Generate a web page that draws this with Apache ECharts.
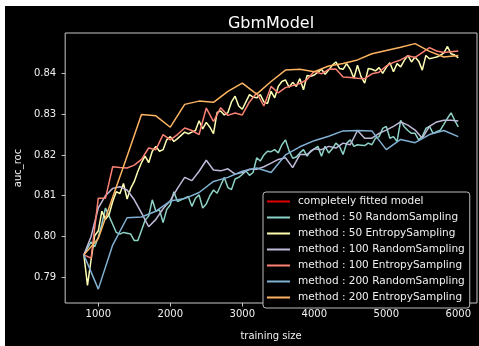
<!DOCTYPE html>
<html>
<head>
<meta charset="utf-8">
<script src="https://cdn.jsdelivr.net/npm/echarts@6/dist/echarts.min.js"></script>
<style>
  html, body { margin: 0; padding: 0; background: #fff; }
  #main { position: absolute; left: 5px; top: 6px; width: 474px; height: 340px; }
</style>
</head>
<body>
<div id="main"></div>
<script>
// auc_roc, one value per training size
var fittedAuc = 0.8461;

var random50 = [
  0.7955, 0.7971, 0.7987, 0.7975, 0.7999, 0.8030, 0.8070, 0.8050, 0.8030, 0.8010,
  0.8006, 0.8010, 0.8008, 0.8006, 0.7990, 0.7990, 0.8015, 0.8040, 0.8050, 0.8090,
  0.8062, 0.8066, 0.8034, 0.8066, 0.8078, 0.8110, 0.8086, 0.8090, 0.8094, 0.8098,
  0.8074, 0.8094, 0.8102, 0.8070, 0.8080, 0.8100, 0.8114, 0.8106, 0.8125, 0.8145,
  0.8120, 0.8115, 0.8141, 0.8145, 0.8152, 0.8161, 0.8150, 0.8157, 0.8193, 0.8185,
  0.8200, 0.8209, 0.8208, 0.8213, 0.8205, 0.8225, 0.8237, 0.8210, 0.8192, 0.8195,
  0.8205, 0.8213, 0.8197, 0.8210, 0.8215, 0.8221, 0.8197, 0.8221, 0.8205, 0.8215,
  0.8229, 0.8221, 0.8201, 0.8229, 0.8237, 0.8221, 0.8225, 0.8224, 0.8223, 0.8229,
  0.8225, 0.8241, 0.8245, 0.8265, 0.8270, 0.8241, 0.8245, 0.8233, 0.8285, 0.8269,
  0.8260, 0.8253, 0.8253, 0.8237, 0.8245, 0.8265, 0.8270, 0.8253, 0.8257, 0.8261,
  0.8275, 0.8290, 0.8303, 0.8285, 0.8269
];

var entropy50 = [
  0.7955, 0.7880, 0.7943, 0.8002, 0.8014, 0.8062, 0.8042, 0.8054, 0.8086, 0.8110,
  0.8105, 0.8130, 0.8092, 0.8118, 0.8135, 0.8160, 0.8181, 0.8197, 0.8181, 0.8209,
  0.8221, 0.8209, 0.8213, 0.8237, 0.8245, 0.8233, 0.8240, 0.8248, 0.8256, 0.8252,
  0.8256, 0.8260, 0.8284, 0.8264, 0.8280, 0.8268, 0.8252, 0.8304, 0.8308, 0.8298,
  0.8304, 0.8330, 0.8344, 0.8320, 0.8312, 0.8330, 0.8348, 0.8342, 0.8340, 0.8348,
  0.8330, 0.8326, 0.8356, 0.8340, 0.8368, 0.8380, 0.8384, 0.8366, 0.8378, 0.8368,
  0.8387, 0.8360, 0.8395, 0.8393, 0.8396, 0.8403, 0.8410, 0.8398, 0.8408, 0.8420,
  0.8428, 0.8412, 0.8410, 0.8424, 0.8410, 0.8388, 0.8420, 0.8392, 0.8376, 0.8412,
  0.8410, 0.8406, 0.8414, 0.8400, 0.8415, 0.8426, 0.8404, 0.8424, 0.8416, 0.8432,
  0.8444, 0.8428, 0.8440, 0.8430, 0.8408, 0.8444, 0.8436, 0.8438, 0.8440, 0.8444,
  0.8450, 0.8466, 0.8448, 0.8445, 0.8438
];

var random100 = [
  0.7955, 0.8000, 0.8070, 0.8100, 0.8118, 0.8122, 0.8114, 0.8090, 0.8058, 0.8024,
  0.8042, 0.8068, 0.8088, 0.8118, 0.8145, 0.8137, 0.8160, 0.8187, 0.8163, 0.8161,
  0.8166, 0.8153, 0.8157, 0.8165, 0.8165, 0.8171, 0.8180, 0.8189, 0.8193, 0.8169,
  0.8201, 0.8201, 0.8215, 0.8213, 0.8221, 0.8217, 0.8229, 0.8225, 0.8260, 0.8241,
  0.8241, 0.8253, 0.8261, 0.8270, 0.8281, 0.8273, 0.8261, 0.8241, 0.8270, 0.8281,
  0.8285, 0.8285, 0.8283
];

var entropy100 = [
  0.7955, 0.7947, 0.8094, 0.8094, 0.8171, 0.8169, 0.8168, 0.8175, 0.8189, 0.8217,
  0.8213, 0.8250, 0.8237, 0.8250, 0.8266, 0.8260, 0.8250, 0.8315, 0.8282, 0.8316,
  0.8297, 0.8303, 0.8298, 0.8330, 0.8352, 0.8320, 0.8368, 0.8352, 0.8365, 0.8370,
  0.8375, 0.8385, 0.8405, 0.8399, 0.8410, 0.8411, 0.8391, 0.8390, 0.8388, 0.8387,
  0.8399, 0.8403, 0.8418, 0.8427, 0.8433, 0.8443, 0.8439, 0.8451, 0.8463, 0.8455,
  0.8451, 0.8453, 0.8455
];

var random200 = [
  0.7955, 0.7871, 0.7979, 0.8046, 0.8048, 0.8062, 0.8087, 0.8093, 0.8108, 0.8135,
  0.8145, 0.8160, 0.8168, 0.8157, 0.8200, 0.8220, 0.8235, 0.8246, 0.8259, 0.8260,
  0.8259, 0.8213, 0.8238, 0.8230, 0.8250, 0.8260, 0.8245
];

var entropy200 = [
  0.7955, 0.7995, 0.8096, 0.8197, 0.8299, 0.8296, 0.8268, 0.8324, 0.8332, 0.8329,
  0.8356, 0.8376, 0.8349, 0.8380, 0.8408, 0.8410, 0.8404, 0.8418, 0.8424, 0.8433,
  0.8448, 0.8456, 0.8464, 0.8473, 0.8454, 0.8440, 0.8444
];

var xTicks = [1000, 2000, 3000, 4000, 5000, 6000];
var yTicks = [0.79, 0.80, 0.81, 0.82, 0.83, 0.84];

// training sizes start at 800 and grow by the query batch size
function withSizes(step, values) {
  return values.map(function (v, i) { return [800 + i * step, v]; });
}

var font = 'DejaVu Sans';
var myChart = echarts.init(document.getElementById('main'));

function curve(name, color, step, values) {
  return {
    name: name,
    type: 'line',
    data: withSizes(step, values),
    showSymbol: false,
    symbol: 'none',
    color: color,
    lineStyle: { color: color, width: 1.5 },
    animation: false
  };
}

option = {
  backgroundColor: '#000',
  animation: false,
  title: {
    text: 'GbmModel',
    left: 261,
    top: 5,
    textAlign: 'center',
    textStyle: { color: '#fff', fontFamily: font, fontSize: 16, fontWeight: 'normal' }
  },
  grid: {
    left: 55, top: 27, width: 417, height: 279,
    show: true, borderColor: '#c8c8c8', borderWidth: 1, backgroundColor: '#000'
  },
  legend: {
    orient: 'vertical',
    left: 258,
    top: 186,
    padding: [4, 5, 5, 4],
    itemGap: 5,
    itemWidth: 23,
    itemHeight: 2,
    icon: 'rect',
    backgroundColor: '#000',
    borderColor: '#bbbbbb',
    borderWidth: 1,
    borderRadius: 3,
    textStyle: { color: '#f0f0f0', fontFamily: font, fontSize: 10.5, padding: [0, 0, 0, 3] }
  },
  xAxis: {
    type: 'value',
    min: 540,
    max: 6260,
    name: 'training size',
    nameLocation: 'middle',
    nameGap: 28,
    nameTextStyle: { color: '#f0f0f0', fontFamily: font, fontSize: 10 },
    axisLine: { show: false },
    splitLine: { show: false },
    axisTick: { show: true, inside: false, length: 3.5, customValues: xTicks, lineStyle: { color: '#c8c8c8' } },
    axisLabel: {
      color: '#f0f0f0', fontFamily: font, fontSize: 10, margin: 6, customValues: xTicks,
      formatter: function (v) { return String(v); }
    }
  },
  yAxis: {
    type: 'value',
    min: 0.7837,
    max: 0.8499,
    name: 'auc_roc',
    nameLocation: 'middle',
    nameGap: 41,
    nameRotate: 90,
    nameTextStyle: { color: '#f0f0f0', fontFamily: font, fontSize: 10 },
    axisLine: { show: false },
    splitLine: { show: false },
    axisTick: { show: true, inside: false, length: 3.5, customValues: yTicks, lineStyle: { color: '#c8c8c8' } },
    axisLabel: {
      color: '#f0f0f0', fontFamily: font, fontSize: 10, margin: 9, customValues: yTicks,
      formatter: function (v) { return v.toFixed(2); }
    }
  },
  series: [
    {
      name: 'completely fitted model',
      type: 'line',
      data: [],
      color: '#e00000',
      lineStyle: { color: '#e00000', width: 1.5 },
      markLine: {
        silent: true,
        symbol: 'none',
        label: { show: false },
        lineStyle: { color: '#e00000', width: 1.5, type: 'solid' },
        data: [{ yAxis: fittedAuc }]
      }
    },
    curve('method : 50 RandomSampling', '#8dd3c7', 50, random50),
    curve('method : 50 EntropySampling', '#feffb3', 50, entropy50),
    curve('method : 100 RandomSampling', '#bfbbd9', 100, random100),
    curve('method : 100 EntropySampling', '#fa8174', 100, entropy100),
    curve('method : 200 RandomSampling', '#81b1d2', 200, random200),
    curve('method : 200 EntropySampling', '#fdb462', 200, entropy200)
  ]
};

myChart.setOption(option);
</script>
</body>
</html>
